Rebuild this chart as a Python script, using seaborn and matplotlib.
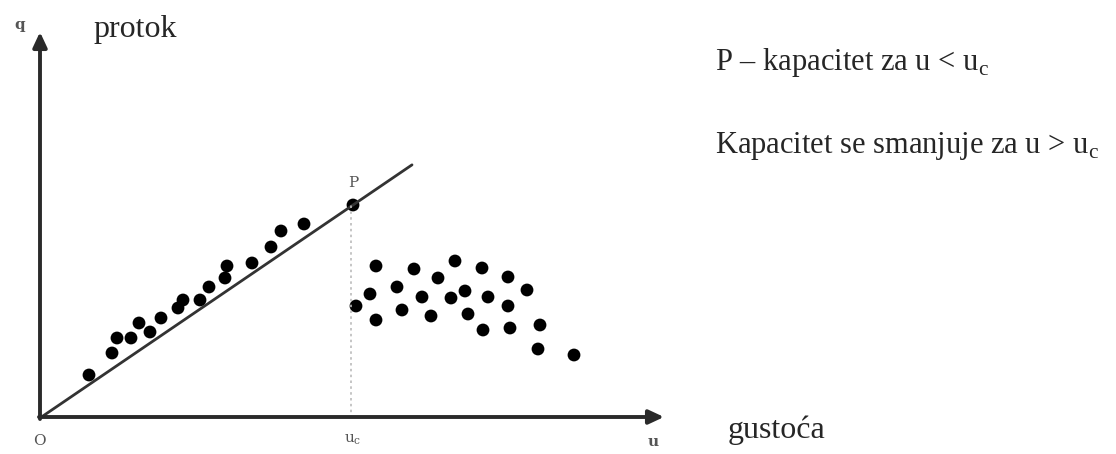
import matplotlib
matplotlib.use('Agg')
import matplotlib.pyplot as plt
import seaborn as sns
import pandas as pd

# gustoca (u) i protok (q)
u_free = [4.9, 7.2, 7.7, 9.1, 9.9, 11.0, 12.1, 13.8, 14.3, 16.0, 16.9, 18.5, 18.7, 21.2, 23.1, 24.1, 26.4]
q_free = [4.3, 6.5, 8.0, 8.0, 9.5, 8.6, 10.0, 11.0, 11.8, 11.8, 13.1, 14.0, 15.2, 15.5, 17.1, 18.7, 19.4]
u_cong = [31.6, 33.0, 33.6, 33.6, 35.7, 36.2, 37.4, 38.2, 39.1, 39.8, 41.1, 41.5, 42.5, 42.8,
          44.2, 44.3, 44.8, 46.8, 46.8, 47.0, 48.7, 50.0, 49.8, 53.4]
q_cong = [11.2, 12.4, 15.2, 9.8, 13.1, 10.8, 14.9, 12.1, 10.2, 14.0, 12.0, 15.7, 12.7, 10.4,
          15.0, 8.8, 12.1, 14.1, 11.2, 9.0, 12.8, 9.3, 6.9, 6.3]
u_c = 31.3
q_p = 21.3
u_line_end = 37.2

df = pd.DataFrame({'u': u_free + [u_c] + u_cong, 'q': q_free + [q_p] + q_cong})

sns.set_style('white')
plt.rcParams['font.family'] = ['Liberation Serif', 'DejaVu Serif']
plt.rcParams['mathtext.fontset'] = 'custom'
plt.rcParams['mathtext.rm'] = 'Liberation Serif'

fig = plt.figure(figsize=(11.16, 4.54), dpi=100)
ax = fig.add_axes([0, 0, 1, 1])
ax.set_xlim(-4.0, 107.6)
ax.set_ylim(-3.6, 41.8)
ax.axis('off')

# axes with arrows
arrow = dict(arrowstyle='-|>,head_length=0.9,head_width=0.42', color='#2a2a2a', lw=2.8,
             shrinkA=0, shrinkB=0)
ax.annotate('', xy=(0, 38.6), xytext=(0, -0.1), arrowprops=arrow)
ax.annotate('', xy=(62.4, 0.1), xytext=(-0.1, 0.1), arrowprops=arrow)

# capacity line through origin and P
ax.plot([0, u_line_end], [0, q_p / u_c * u_line_end], color='#333333', lw=2)
# dotted vertical at u_c
ax.plot([u_c - 0.2, u_c - 0.2], [0, q_p], color='#bbbbbb', lw=1.2, ls=(0, (1.5, 2)))

sns.scatterplot(data=df, x='u', y='q', color='black', s=85, edgecolor='none', ax=ax)

small = dict(color='#555555', fontsize=11, family='DejaVu Serif')
ax.text(-2.0, 39.3, 'q', ha='center', va='center', weight='bold', **small)
ax.text(-0.1, -2.3, 'O', ha='center', va='center', **small)
ax.text(u_c, -2.2, 'u$_\\mathregular{c}$', ha='center', va='center', **small)
ax.text(61.3, -2.4, 'u', ha='center', va='center', weight='bold', **small)
ax.text(u_c, 23.5, 'P', ha='center', va='center', **small)

ax.text(5.3, 38.1, 'protok', fontsize=23, ha='left', va='baseline')
ax.text(67.5, 34.8, 'P – kapacitet za u < u$_\\mathrm{c}$', fontsize=22, ha='left', va='baseline')
ax.text(67.5, 26.5, 'Kapacitet se smanjuje za u > u$_\\mathrm{c}$', fontsize=22, ha='left', va='baseline')
ax.text(68.8, -2.0, 'gustoća', fontsize=23, ha='left', va='baseline')

fig.savefig('out.png', dpi=100, facecolor='white')
